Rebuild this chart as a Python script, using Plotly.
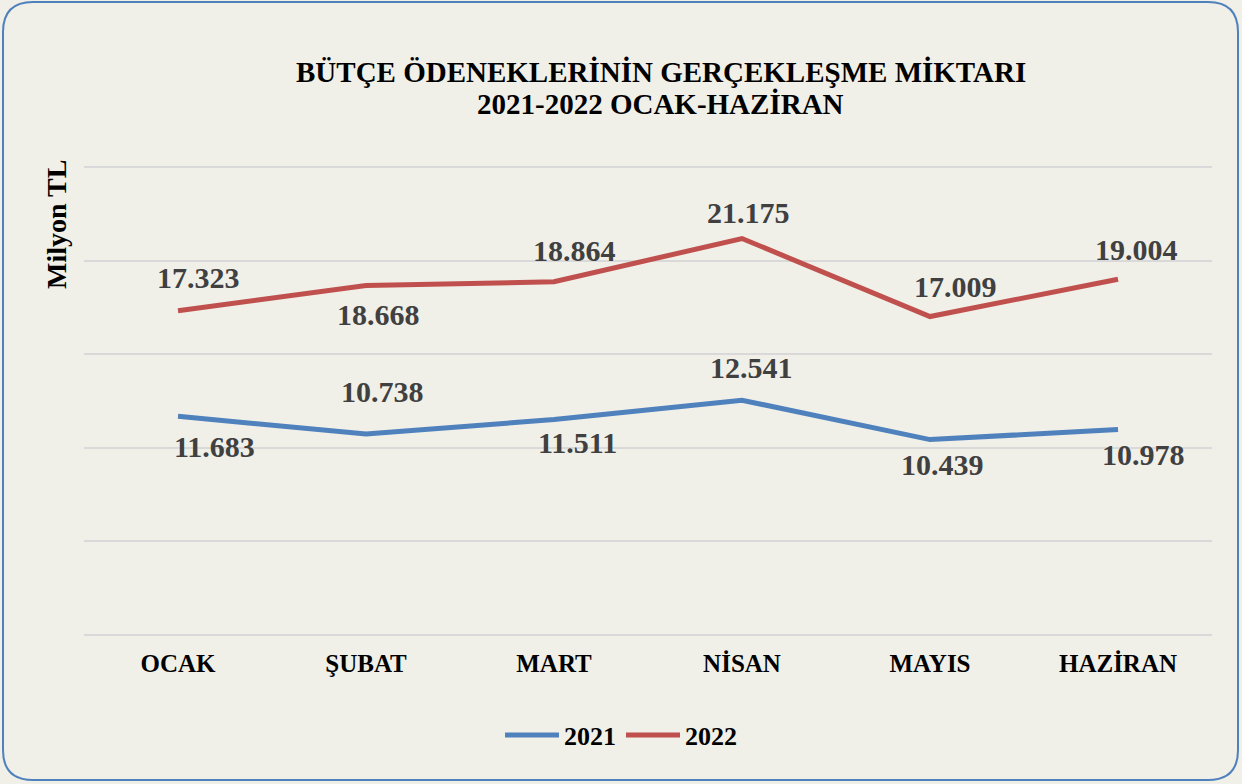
import plotly.graph_objects as go

months = ["OCAK", "ŞUBAT", "MART", "NİSAN", "MAYIS", "HAZİRAN"]
series_names = ["2021", "2022"]
values_2021 = [11.683, 10.738, 11.511, 12.541, 10.439, 10.978]
values_2022 = [17.323, 18.668, 18.864, 21.175, 17.009, 19.004]
y_ticks = [0, 5, 10, 15, 20, 25]
title_lines = ["BÜTÇE ÖDENEKLERİNİN GERÇEKLEŞME MİKTARI", "2021-2022 OCAK-HAZİRAN"]
y_title = "Milyon TL"

# label placement (style): (xshift, yshift) in pixels
shift_2021 = [(36, -30), (16, 43), (23, -23), (9, 33), (12, -25), (25, -25)]
shift_2022 = [(20, 33), (12, -29), (20, 31), (6, 26), (25, 30), (18, 30)]

FONT = "Liberation Serif, Times New Roman, serif"
BLUE = "#4F81BD"
RED = "#C0504D"

W, H = 1242, 784
L, R, T, B = 84, 30, 165, 147
PW, PH = W - L - R, H - T - B


def px(x):
    return (x - L) / PW


def py(y):
    return (H - B - y) / PH


fig = go.Figure()
fig.add_trace(go.Scatter(x=months, y=values_2021, mode="lines", name=series_names[0],
                         line=dict(color=BLUE, width=5)))
fig.add_trace(go.Scatter(x=months, y=values_2022, mode="lines", name=series_names[1],
                         line=dict(color=RED, width=5)))

annotations = []
for vals, shifts in ((values_2021, shift_2021), (values_2022, shift_2022)):
    for m, v, (dx, dy) in zip(months, vals, shifts):
        annotations.append(dict(x=m, y=v, xref="x", yref="y", text=f"{v:.3f}",
                                showarrow=False, xshift=dx, yshift=dy,
                                font=dict(family=FONT, size=30, color="#404040", weight="bold")))

annotations.append(dict(x=px(56), y=py(225), xref="paper", yref="paper", text=y_title,
                        textangle=-90, showarrow=False, xanchor="center", yanchor="middle",
                        font=dict(family=FONT, size=28, color="#000000", weight="bold")))

for line_text, yc in zip(title_lines, (72, 104)):
    annotations.append(dict(x=px(661), y=py(yc), xref="paper", yref="paper", text=line_text,
                            showarrow=False, xanchor="center", yanchor="middle",
                            font=dict(family=FONT, size=29, color="#000000", weight="bold")))

x0, x1, y0, y1, rad = 3, 1238, 2, 780, 30
path = (f"M {px(x0+rad)},{py(y0)} L {px(x1-rad)},{py(y0)} "
        f"Q {px(x1)},{py(y0)} {px(x1)},{py(y0+rad)} L {px(x1)},{py(y1-rad)} "
        f"Q {px(x1)},{py(y1)} {px(x1-rad)},{py(y1)} L {px(x0+rad)},{py(y1)} "
        f"Q {px(x0)},{py(y1)} {px(x0)},{py(y1-rad)} L {px(x0)},{py(y0+rad)} "
        f"Q {px(x0)},{py(y0)} {px(x0+rad)},{py(y0)} Z")

fig.update_layout(
    width=W, height=H,
    autosize=False,
    margin=dict(l=L, r=R, t=T, b=B, autoexpand=False),
    paper_bgcolor="#F0EFE8",
    plot_bgcolor="rgba(0,0,0,0)",
    xaxis=dict(range=[-0.5, len(months) - 0.5], showgrid=False, zeroline=False, showline=False,
               ticks="outside", ticklen=4, tickcolor="rgba(0,0,0,0)", tickangle=0,
               automargin=False,
               tickfont=dict(family=FONT, size=25, color="#000000", weight="bold")),
    yaxis=dict(range=[-0.1, 25.1], tickvals=y_ticks, showticklabels=False,
               showgrid=True, gridcolor="#D9D9D9", gridwidth=1.5, automargin=False,
               zeroline=False, showline=False),
    showlegend=True,
    legend=dict(orientation="h", x=px(621), xanchor="center", xref="paper",
                y=py(735), yanchor="middle", itemwidth=54,
                bgcolor="rgba(0,0,0,0)",
                font=dict(family=FONT, size=26, color="#000000", weight="bold")),
    annotations=annotations,
    shapes=[dict(type="path", xref="paper", yref="paper", path=path,
                 line=dict(color="#4F81BD", width=2), fillcolor="rgba(0,0,0,0)",
                 layer="below")],
)

fig.write_html("out.html", config={"displayModeBar": False},
               post_script="document.body.style.margin='0';")
